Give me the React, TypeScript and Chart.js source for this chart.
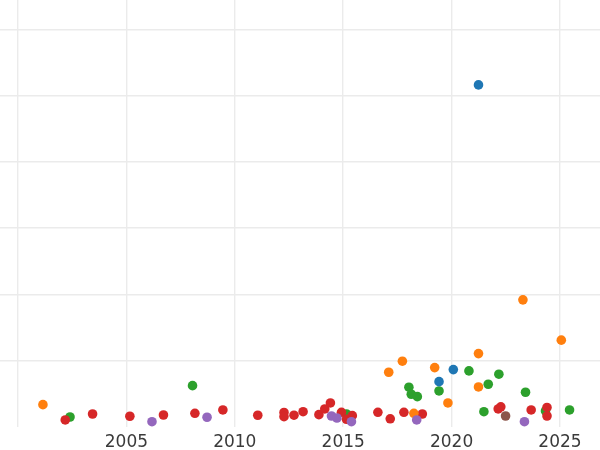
import React, { useEffect, useRef } from "react";
import { Chart, registerables } from "chart.js";

Chart.register(...registerables);

// x = year, y = value (grid step 1)
const blueX = [2021.24, 2020.08, 2019.42];
const blueY = [5.16, 0.866, 0.684];

const orangeX = [2001.15, 2017.10, 2017.73, 2018.26, 2019.22, 2019.83, 2021.24, 2021.24, 2023.29, 2025.06];
const orangeY = [0.337, 0.826, 0.992, 0.207, 0.896, 0.363, 1.107, 0.604, 1.918, 1.31];

const greenX = [2002.40, 2008.05, 2015.15, 2018.03, 2018.14, 2018.42, 2019.42, 2020.80, 2021.69, 2022.18, 2023.41, 2021.49, 2025.44, 2024.33];
const greenY = [0.151, 0.624, 0.196, 0.6, 0.494, 0.458, 0.544, 0.846, 0.645, 0.796, 0.524, 0.231, 0.257, 0.242];

const redX = [2002.18, 2003.44, 2005.16, 2006.71, 2008.16, 2009.45, 2011.06, 2012.27, 2012.27, 2012.73, 2013.15, 2013.88, 2014.15, 2014.41, 2014.92, 2015.15, 2015.42, 2016.60, 2017.17, 2017.80, 2018.65, 2022.15, 2022.27, 2023.67, 2024.40, 2024.40];
const redY = [0.106, 0.196, 0.162, 0.181, 0.207, 0.257, 0.177, 0.219, 0.156, 0.178, 0.231, 0.186, 0.272, 0.363, 0.222, 0.116, 0.171, 0.222, 0.124, 0.222, 0.196, 0.272, 0.305, 0.257, 0.295, 0.166];

const purpleX = [2006.18, 2008.72, 2014.46, 2014.71, 2015.38, 2018.39, 2023.36];
const purpleY = [0.08, 0.147, 0.166, 0.136, 0.08, 0.106, 0.08];

const brownX = [2022.49];
const brownY = [0.166];

const xTicks = [2000, 2005, 2010, 2015, 2020, 2025];
const xTickLabels = ["", "2005", "2010", "2015", "2020", "2025"];
const yTicks = [1, 2, 3, 4, 5, 6];

const pts = (xs: number[], ys: number[]) => xs.map((x, i) => ({ x, y: ys[i] }));

export default function App() {
  const ref = useRef<HTMLCanvasElement>(null);
  useEffect(() => {
    const mk = (data: any[], color: string) => ({
      data,
      backgroundColor: color,
      borderColor: color,
      borderWidth: 0,
      pointRadius: 4.8,
      pointHoverRadius: 4.8,
    });
    const chart = new Chart(ref.current!, {
      type: "scatter",
      data: {
        datasets: [
          mk(pts(blueX, blueY), "#1f77b4"),
          mk(pts(purpleX, purpleY), "#9467bd"),
          mk(pts(brownX, brownY), "#8c564b"),
          mk(pts(orangeX, orangeY), "#ff7f0e"),
          mk(pts(redX, redY), "#d62728"),
          mk(pts(greenX, greenY), "#2ca02c"),
        ],
      },
      options: {
        animation: false,
        responsive: false,
        devicePixelRatio: 1,
        layout: { padding: 0, autoPadding: false },
        plugins: { legend: { display: false }, tooltip: { enabled: false } },
        scales: {
          x: {
            type: "linear",
            min: 1999.17,
            max: 2026.845,
            afterBuildTicks: (s: any) => {
              s.ticks = xTicks.map((v) => ({ value: v }));
            },
            afterFit: (s: any) => {
              s.height = 23;
            },
            grid: { color: "#ebebeb", lineWidth: 1.4, drawTicks: false },
            border: { display: false },
            ticks: {
              padding: 5,
              color: "#3a3a3a",
              font: { family: "DejaVu Sans", size: 17 },
              maxRotation: 0,
              autoSkip: false,
              callback: (v: any, i: number) => xTickLabels[i],
            },
          },
          y: {
            type: "linear",
            min: 0,
            max: 427 / 66.3,
            afterBuildTicks: (s: any) => {
              s.ticks = yTicks.map((v) => ({ value: v }));
            },
            grid: { color: "#ebebeb", lineWidth: 1.4, drawTicks: false },
            border: { display: false },
            ticks: { display: false },
          },
        },
      },
    });
    return () => chart.destroy();
  }, []);
  return (
    <div style={{ position: "absolute", left: 0, top: 0, width: 600, height: 450, background: "#fff" }}>
      <canvas ref={ref} width={600} height={450} />
    </div>
  );
}
